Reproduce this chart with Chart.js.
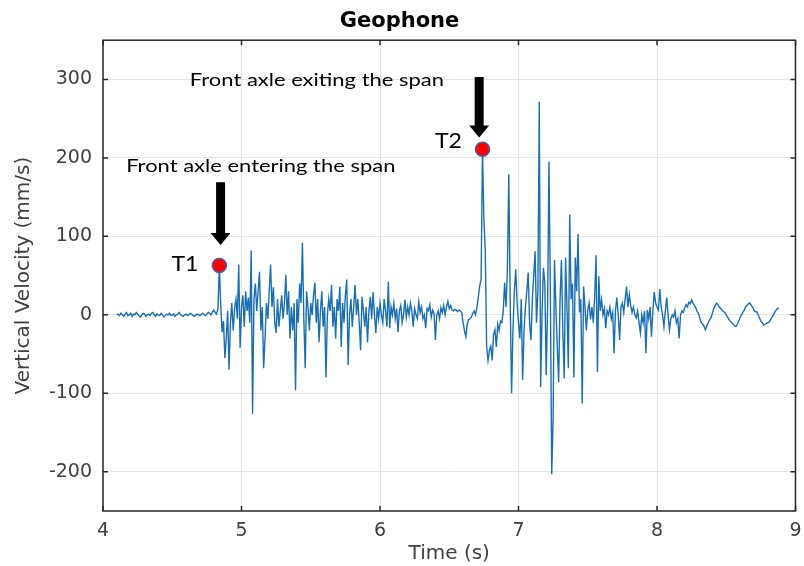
<!DOCTYPE html>
<html>
<head>
<meta charset="utf-8">
<title>Geophone</title>
<script src="https://cdn.jsdelivr.net/npm/chart.js@4.4.1/dist/chart.umd.min.js"></script>
<style>
  html, body { margin: 0; padding: 0; background: #fff; }
  #wrap { width: 804px; height: 566px; }
</style>
</head>
<body>
<div id="wrap"><canvas id="geophoneChart" width="804" height="566"></canvas></div>
<script>
// geophone trace, one sample every 10 ms starting at 4.10 s (one row = 0.1 s)
const sampleStart = 4.10;
const sampleStep = 0.01;
const velocity = [
  0, 1, -1, 2, 0, -2, 1, 3, -1, 0,
  2, -2, 1, 0, 3, 1, -1, -3, 0, 2,
  1, -2, 0, 1, -1, 2, 3, 0, -2, 1,
  0, -1, 2, 0, -3, -1, 1, 0, 2, -1,
  0, 1, -2, 0, 1, 3, 0, -1, -2, 0,
  1, -1, 0, 2, 1, -1, -2, 0, 1, 0,
  -1, 1, 2, 0, -1, 1, 3, 2, 0, 4,
  6, 3, 1, 8, 63, 12, -22, -8, -55, -30,
  5, -70, -10, 15, -20, 8, 20, -5, 64, -42,
  10, 25, -15, 30, 5, 22, -10, 82, -126, 20,
  40, 5, 30, 55, -20, 10, -68, -30, 15, -5,
  30, 64, 10, 35, -10, -23, 20, -15, 5, 25,
  -5, 15, 51, 0, 30, -30, 10, -20, 15, -96,
  20, -10, 40, 15, 92, -5, -68, 30, 10, -20,
  15, 0, 25, 41, -10, 20, -35, 5, 30, -15,
  10, -80, 0, 20, 5, 38, -15, 10, -30, 20,
  5, 36, -41, 15, -10, 25, 45, -64, 0, 20,
  -15, 10, 38, 0, 20, -10, -45, 23, 5, -15,
  10, -35, 5, 23, -5, 29, 0, -23, 10, -5,
  15, 0, -10, 20, 5, -15, 42, -17, 10, 0,
  15, -5, 8, -22, 5, 12, -10, 0, 19, -3,
  10, 0, 15, 5, -15, 8, 0, -5, 17, 3,
  10, -5, 0, -17, 8, 5, 13, -3, 6, 2,
  -32, 0, 5, -5, 9, 3, 12, 0, 10, 17,
  8, 12, 6, 5, 7, 6, 4, 6, 5, 3,
  -10, -20, -28, -12, -6, -5, -3, 2, 5, 0,
  10, 23, 37, 45, 211, 122, 83, -41, -58, -45,
  -40, -58, -25, -19, -41, -12, -20, -8, -10, 5,
  41, 10, 60, 179, 20, -100, -20, 30, 58, 15,
  -10, -30, 20, -83, -20, 10, 30, 54, -10, -32,
  20, 50, 81, -10, 30, 272, -92, 0, 60, 41,
  -77, 10, 195, 30, -203, -131, 70, 10, -40, -86,
  20, 70, -20, -81, 73, 10, -68, 128, 20, 40,
  -80, 73, 30, 103, 3, 20, -113, 36, 10, -20,
  6, 15, -6, 10, -10, 23, 76, -73, 49, 5,
  19, 0, 8, -17, 5, 0, 10, -5, 3, -49,
  5, 22, 0, -32, 10, 15, 3, 20, 36, 10,
  26, 12, 3, 10, 0, -4, 5, -10, -23, 0,
  -10, 5, -49, 6, -5, 10, -28, 5, 29, 15,
  10, 6, 33, 10, 0, -15, 5, 22, 0, -19,
  -5, 0, -3, 5, -10, -5, -30, 0, 5, 3,
  9, 13, 10, 16, 14, 19, 15, 12, 9, 4,
  2, -5, -10, -12, -15, -19, -14, -10, -6, -4,
  2, 8, 12, 15, 13, 10, 8, 6, 4, 3,
  0, -3, -6, -8, -10, -12, -14, -15, -12, -8,
  -3, 0, 3, 6, 10, 12, 14, 15, 12, 10,
  6, 4, 4, 0, -4, -8, -10, -13, -12, -11,
  -10, -9, -6, -3, 0, 3, 6, 8, 9
];

const timeTicks = [4, 5, 6, 7, 8, 9];
const velocityTicks = [-200, -100, 0, 100, 200, 300];

// axle events picked on the trace
const eventLabels = ['T1', 'T2'];
const eventTimes = [4.84, 6.74];
const noteTexts = ['Front axle entering the span', 'Front axle exiting the span'];

// where the callouts sit, in data units (time, velocity)
const callouts = [
  { label: { t: 4.592, v: 64 }, arrow: { t: 4.849, top: 169, tip: 89 }, note: { t: 4.167, v: 190 } },
  { label: { t: 6.494, v: 221 }, arrow: { t: 6.716, top: 303, tip: 226 }, note: { t: 4.627, v: 299 } }
];

const tracePoints = velocity.map((v, i) => ({ x: sampleStart + i * sampleStep, y: v }));
const eventPoints = eventTimes.map(t => {
  const i = Math.round((t - sampleStart) / sampleStep);
  return { x: sampleStart + i * sampleStep, y: velocity[i] };
});

const axisFont = { family: 'DejaVu Sans', size: 19 };
const axisColor = '#404040';

// text drawn slightly wider than the font's natural width
function wideText(ctx, text, px, py, align, stretch) {
  ctx.save();
  ctx.translate(px, py);
  ctx.scale(stretch, 1);
  ctx.textAlign = align;
  ctx.textBaseline = 'middle';
  ctx.fillText(text, 0, 0);
  ctx.restore();
}

// box, inward ticks and the arrows/labels on top of the plot
const boxAndCallouts = {
  id: 'boxAndCallouts',
  afterDraw(chart) {
    const { ctx, chartArea: a, scales: { x, y } } = chart;
    ctx.save();
    ctx.strokeStyle = '#262626';
    ctx.lineWidth = 1.5;
    ctx.strokeRect(a.left, a.top, a.right - a.left, a.bottom - a.top);
    ctx.beginPath();
    timeTicks.forEach(t => {
      const px = x.getPixelForValue(t);
      ctx.moveTo(px, a.bottom); ctx.lineTo(px, a.bottom - 5);
      ctx.moveTo(px, a.top); ctx.lineTo(px, a.top + 5);
    });
    velocityTicks.forEach(v => {
      const py = y.getPixelForValue(v);
      ctx.moveTo(a.left, py); ctx.lineTo(a.left + 5, py);
      ctx.moveTo(a.right, py); ctx.lineTo(a.right - 5, py);
    });
    ctx.stroke();

    ctx.fillStyle = '#000';
    callouts.forEach((c, k) => {
      // arrow pointing down at the event
      const ax = x.getPixelForValue(c.arrow.t);
      const yTop = y.getPixelForValue(c.arrow.top);
      const yTip = y.getPixelForValue(c.arrow.tip);
      const shaft = 9, headW = 20, headL = 12;
      ctx.fillRect(ax - shaft / 2, yTop, shaft, yTip - headL - yTop + 1);
      ctx.beginPath();
      ctx.moveTo(ax - headW / 2, yTip - headL);
      ctx.lineTo(ax + headW / 2, yTip - headL);
      ctx.lineTo(ax, yTip);
      ctx.closePath();
      ctx.fill();

      ctx.font = '21px Lato';
      wideText(ctx, eventLabels[k], x.getPixelForValue(c.label.t), y.getPixelForValue(c.label.v), 'center', 1.1);

      ctx.font = '18px Lato';
      wideText(ctx, noteTexts[k], x.getPixelForValue(c.note.t), y.getPixelForValue(c.note.v), 'left', 1.22);
    });
    ctx.restore();
  }
};

new Chart(document.getElementById('geophoneChart'), {
  type: 'line',
  data: {
    datasets: [
      {
        type: 'scatter',
        data: eventPoints,
        pointRadius: 7,
        pointBackgroundColor: '#ff0000',
        pointBorderColor: '#4b5aa0',
        pointBorderWidth: 1.5,
        order: 0
      },
      {
        data: tracePoints,
        borderColor: '#1a6fb2',
        borderWidth: 1.4,
        pointRadius: 0,
        tension: 0,
        fill: false,
        order: 1
      }
    ]
  },
  options: {
    responsive: false,
    animation: false,
    devicePixelRatio: 1,
    layout: { padding: { left: 0, right: 5, top: 0, bottom: 0 } },
    plugins: {
      legend: { display: false },
      tooltip: { enabled: false },
      title: {
        display: true,
        text: 'Geophone',
        color: '#000',
        font: { family: 'DejaVu Sans', size: 21, weight: 'bold' },
        padding: { top: 9, bottom: 6 }
      }
    },
    scales: {
      x: {
        type: 'linear',
        min: 4,
        max: 9,
        afterBuildTicks: s => { s.ticks = timeTicks.map(v => ({ value: v })); },
        afterFit: s => { s.height = 55; s.paddingLeft = 0; s.paddingRight = 0; },
        ticks: { font: axisFont, color: axisColor, padding: 9, maxRotation: 0 },
        grid: { color: '#e4e4e4', drawTicks: false },
        border: { display: false },
        title: {
          display: true,
          text: 'Time (s)',
          color: axisColor,
          font: { family: 'DejaVu Sans', size: 20 },
          padding: { top: 0, bottom: 0 }
        }
      },
      y: {
        min: -250,
        max: 350,
        afterBuildTicks: s => { s.ticks = velocityTicks.map(v => ({ value: v })); },
        afterFit: s => { s.width = 103; },
        ticks: { font: axisFont, color: axisColor, padding: 11 },
        grid: { color: '#e4e4e4', drawTicks: false },
        border: { display: false },
        title: {
          display: true,
          text: 'Vertical Velocity (mm/s)',
          color: axisColor,
          font: { family: 'DejaVu Sans', size: 20 },
          padding: { top: 12, bottom: 0 }
        }
      }
    }
  },
  plugins: [boxAndCallouts]
});
</script>
</body>
</html>
